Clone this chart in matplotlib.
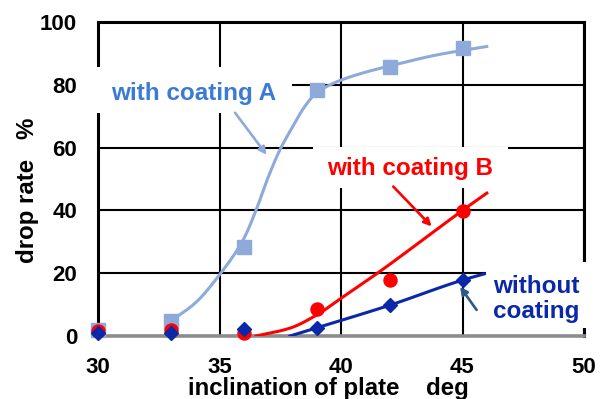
import numpy as np
import matplotlib
matplotlib.use("Agg")
import matplotlib.pyplot as plt
from matplotlib.patches import Rectangle

plt.rcParams['font.family'] = ['Liberation Sans', 'DejaVu Sans']
plt.rcParams['font.weight'] = 'bold'

# measured drop rates (%) at each plate inclination (deg)
inclination = [30, 33, 36, 39, 42, 45]
rate_coating_a = [2.0, 4.8, 28.3, 78.5, 85.6, 91.8]
rate_coating_b = [1.5, 1.8, 0.8, 8.7, 17.8, 39.8]
rate_no_coating = [0.8, 1.0, 2.1, 2.7, 9.8, 17.8]

# knots of the hand-fitted trend curves
trend_a_x = [33.0, 34.0, 35.0, 36.0, 36.5, 37.0, 37.5, 38.0, 38.5, 39.0, 39.5, 40.0, 41.0, 42.0, 44.0, 46.0]
trend_a_y = [4.8, 10.5, 19.5, 31.0, 40.0, 50.5, 59.5, 66.5, 73.0, 77.5, 79.8, 81.5, 84.0, 86.0, 89.6, 92.2]
trend_b_x = [36.5, 37.9, 39.0, 40.0, 41.5, 43.0, 45.0, 46.0]
trend_b_y = [0.0, 2.5, 6.7, 12.0, 20.0, 28.5, 40.0, 45.5]
trend_c_x = [37.9, 39.0, 42.0, 45.0, 45.9]
trend_c_y = [0.0, 2.6, 9.8, 17.8, 19.8]

x_ticks = [30, 35, 40, 45, 50]
y_ticks = [0, 20, 40, 60, 80, 100]

COL_A = '#8EAADB'
COL_A_TEXT = '#3A7BD5'
COL_B = '#FF0000'
COL_C = '#0A28A8'
COL_C_ARROW = '#2A5A8A'


def pchip(xs, ys, n=30):
    """Shape-preserving cubic through the knots (Fritsch-Carlson)."""
    x = np.asarray(xs, float)
    y = np.asarray(ys, float)
    h = np.diff(x)
    d = np.diff(y) / h
    m = np.empty_like(y)
    m[0], m[-1] = d[0], d[-1]
    for k in range(1, len(x) - 1):
        if d[k - 1] * d[k] <= 0:
            m[k] = 0.0
        else:
            w1 = 2 * h[k] + h[k - 1]
            w2 = h[k] + 2 * h[k - 1]
            m[k] = (w1 + w2) / (w1 / d[k - 1] + w2 / d[k])
    px, py = [], []
    for k in range(len(x) - 1):
        t = np.linspace(0, 1, n, endpoint=False)
        h00 = 2 * t**3 - 3 * t**2 + 1
        h10 = t**3 - 2 * t**2 + t
        h01 = -2 * t**3 + 3 * t**2
        h11 = t**3 - t**2
        px.append(x[k] + t * h[k])
        py.append(h00 * y[k] + h10 * h[k] * m[k] + h01 * y[k + 1] + h11 * h[k] * m[k + 1])
    px.append([x[-1]])
    py.append([y[-1]])
    return np.concatenate(px), np.concatenate(py)


fig = plt.figure(figsize=(6.09, 3.99), dpi=100)
W, H = 609, 399
ax = fig.add_axes([98 / W, 1 - 336 / H, (584 - 98) / W, (336 - 22) / H])
ax.set_xlim(30, 50)
ax.set_ylim(0, 100)
ax.set_xticks(x_ticks)
ax.set_yticks(y_ticks)
ax.grid(True, color='black', lw=1.5)
ax.set_axisbelow(True)
ax.tick_params(length=0, labelsize=16)
ax.tick_params(axis='y', pad=15)
ax.tick_params(axis='x', pad=15)
for lab in ax.get_xticklabels() + ax.get_yticklabels():
    lab.set_fontweight('bold')

for side in ('left', 'top', 'right'):
    ax.spines[side].set_color('black')
    ax.spines[side].set_linewidth(2.2)
ax.spines['bottom'].set_color('#8c8c8c')
ax.spines['bottom'].set_linewidth(2.6)

# trend curves
ax.plot(*pchip(trend_a_x, trend_a_y), color=COL_A, lw=2.2, zorder=3)
ax.plot(*pchip(trend_b_x, trend_b_y), color=COL_B, lw=2.2, zorder=3)
ax.plot(*pchip(trend_c_x, trend_c_y), color=COL_C, lw=2.2, zorder=3)

# measured points
ax.plot(inclination, rate_coating_a, 's', color=COL_A, ms=9.6, clip_on=False, zorder=4)
ax.plot(inclination, rate_coating_b, 'o', color=COL_B, ms=9.4, clip_on=False, zorder=4.1)
ax.plot(inclination, rate_no_coating, 'D', color=COL_C, ms=7, clip_on=False, zorder=4.2)

# white label panels that interrupt the grid and frame
for (x0, y0, x1, y1) in [(29.6, 71.1, 38.0, 85.8),
                         (38.85, 47.2, 46.87, 60.3),
                         (45.95, 2.55, 50.7, 23.6)]:
    ax.add_patch(Rectangle((x0, y0), x1 - x0, y1 - y0, fc='white', ec='none',
                           zorder=5, clip_on=False))

fs = 17.5
ax.text(30.53, 75.3, 'with coating A', color=COL_A_TEXT, fontsize=fs,
        fontweight='bold', ha='left', va='baseline', zorder=6)
ax.text(39.42, 51.4, 'with coating B', color=COL_B, fontsize=fs,
        fontweight='bold', ha='left', va='baseline', zorder=6)
ax.text(46.26, 13.8, 'without', color=COL_C, fontsize=fs,
        fontweight='bold', ha='left', va='baseline', zorder=6, clip_on=False)
ax.text(46.26, 5.7, 'coating', color=COL_C, fontsize=fs,
        fontweight='bold', ha='left', va='baseline', zorder=6, clip_on=False)

arrow = dict(arrowstyle='-|>', lw=1.9, mutation_scale=11, shrinkA=0, shrinkB=0)
ax.annotate('', xy=(36.94, 57.7), xytext=(35.64, 71.1),
            arrowprops=dict(arrow, color=COL_A), zorder=7)
ax.annotate('', xy=(43.73, 34.9), xytext=(42.15, 47.6),
            arrowprops=dict(arrow, color=COL_B), zorder=7)
ax.annotate('', xy=(44.9, 15.7), xytext=(45.58, 8.3),
            arrowprops=dict(arrow, color=COL_C_ARROW), zorder=7)

fig.text(328 / W, (H - 395) / H, 'inclination of plate    deg', fontsize=17.3,
         fontweight='bold', ha='center', va='baseline')
fig.text(28 / W, 1 - 190 / H, 'drop rate   %', fontsize=17.3, fontweight='bold',
         rotation=90, ha='center', va='center')

fig.savefig('out.png', dpi=100)
